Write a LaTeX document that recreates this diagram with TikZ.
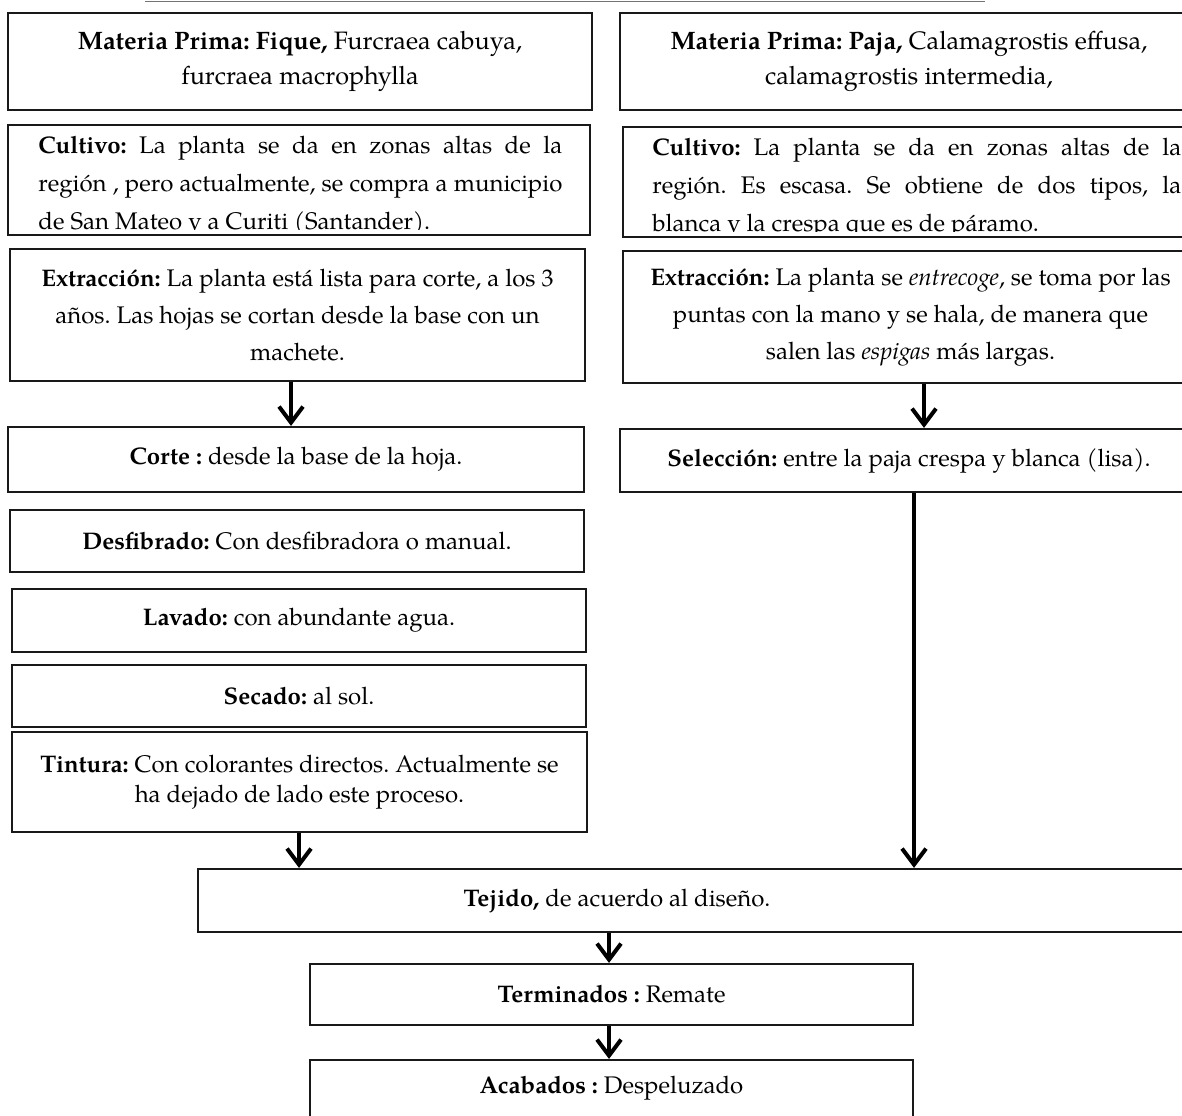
\documentclass[tikz,border=0pt]{standalone}
\usepackage{fontspec}
\setmainfont{TeX Gyre Pagella}
\usetikzlibrary{arrows.meta,fit}
\frenchspacing
\begin{document}
\begin{tikzpicture}[x=0.5pt,y=-0.5pt,
  box/.style={draw=black!90, line width=1.1pt, inner sep=0pt},
  txt/.style={align=center, inner sep=0pt, font=\fontsize{12}{15}\selectfont},
  mtxt/.style={align=center, inner sep=0pt, font=\fontsize{12.6}{17.5}\selectfont},
  ltxt/.style={align=center, inner sep=0pt, font=\fontsize{12}{18.5}\selectfont},
  jtxt/.style={align=justify, inner sep=0pt, anchor=north west, font=\fontsize{12}{19}\selectfont},
  arr/.style={line width=2pt, -{Straight Barb[length=8pt,width=12pt]}},
  topline/.style={draw=black!55, line width=0.8pt}
]
\useasboundingbox (0,0) rectangle (1182,1115);
\clip (0,0) rectangle (1182,1115);

% top rule
\coordinate (t1) at (145,1.5);
\coordinate (t2) at (985,1.5);
\draw[topline] (t1) -- (t2);

% ---------- left column ----------
\node[box, fit={(8,13) (592,110)}] (mpF) {};
\node[mtxt] (mpFt) at (mpF.center) {\textbf{Materia Prima: Fique,} Furcraea cabuya,\\furcraea macrophylla};

\node[box, fit={(8,125) (590,235)}] (cuF) {};
\begin{scope}
  \clip (10,127) rectangle (588,229.5);
  \node[jtxt, text width=262pt] (cuFt) at (38,126) {\strut\textbf{Cultivo:} La planta se da en zonas altas de la\linebreak región , pero actualmente, se compra a municipio\linebreak de San Mateo y a Curiti (Santander).};
\end{scope}

\node[box, fit={(10,249) (585,381)}] (exF) {};
\node[ltxt] (exFt) at (exF.center) {\textbf{Extracción:} La planta está lista para corte, a los 3\\años. Las hojas se cortan desde la base con un\\machete.};

\node[box, fit={(8,427) (584,492)}] (co) {};
\node[txt] (cot) at (co.center) {\textbf{Corte :} desde la base de la hoja.};

\node[box, fit={(10,510) (584,572)}] (de) {};
\node[txt] (det) at (de.center) {\textbf{Desfibrado:} Con desfibradora o manual.};

\node[box, fit={(12,589) (586,652)}] (la) {};
\node[txt] (lat) at (la.center) {\textbf{Lavado:} con abundante agua.};

\node[box, fit={(12,665) (586,727)}] (se) {};
\node[txt] (set) at (se.center) {\textbf{Secado:} al sol.};

\node[box, fit={(12,732) (587,832)}] (ti) {};
\node[txt] (tit) at (ti.center) {\textbf{Tintura:} Con colorantes directos. Actualmente se\\ha dejado de lado este proceso.};

% ---------- right column ----------
\node[box, fit={(620,13) (1198,110)}] (mpP) {};
\node[mtxt] (mpPt) at (mpP.center) {\textbf{Materia Prima: Paja,} Calamagrostis effusa,\\calamagrostis intermedia,};

\node[box, fit={(623,127) (1198,237)}] (cuP) {};
\begin{scope}
  \clip (625,129) rectangle (1196,231.5);
  \node[jtxt, text width=264.5pt] (cuPt) at (652,128) {\strut\textbf{Cultivo:} La planta se da en zonas altas de la\linebreak región. Es escasa. Se obtiene de dos tipos, la\linebreak blanca y la crespa que es de páramo.};
\end{scope}

\node[box, fit={(623,251) (1198,383)}] (exP) {};
\node[ltxt] (exPt) at (exP.center) {\textbf{Extracción:} La planta se \emph{entrecoge}, se toma por las\\puntas con la mano y se hala, de manera que\\salen las \emph{espigas} más largas.};

\node[box, fit={(620,429) (1198,492)}] (sel) {};
\node[txt] (selt) at (sel.center) {\textbf{Selección:} entre la paja crespa y blanca (lisa).};

% ---------- bottom ----------
\node[box, fit={(198,869) (1198,932)}] (te) {};
\node[txt] (tet) at (617,900.5) {\textbf{Tejido,} de acuerdo al diseño.};

\node[box, fit={(310,964) (913,1025)}] (tm) {};
\node[txt] (tmt) at (tm.center) {\textbf{Terminados :} Remate};

\node[box, fit={(310,1060) (913,1140)}] (ac) {};
\node[txt] (act) at (611.5,1088) {\textbf{Acabados :} Despeluzado};

% ---------- connectors ----------
\coordinate (x1) at (291,0);
\coordinate (x2) at (924,0);
\coordinate (x3) at (299,0);
\coordinate (x4) at (914,0);
\coordinate (x5) at (609,0);
\draw[arr] (x1 |- exF.south) -- (x1 |- co.north);
\draw[arr] (x2 |- exP.south) -- (x2 |- sel.north);
\draw[arr] (x3 |- ti.south) -- (x3 |- te.north);
\draw[arr] (x4 |- sel.south) -- (x4 |- te.north);
\draw[arr] (x5 |- te.south) -- (x5 |- tm.north);
\draw[arr] (x5 |- tm.south) -- (x5 |- ac.north);
\end{tikzpicture}
\end{document}
